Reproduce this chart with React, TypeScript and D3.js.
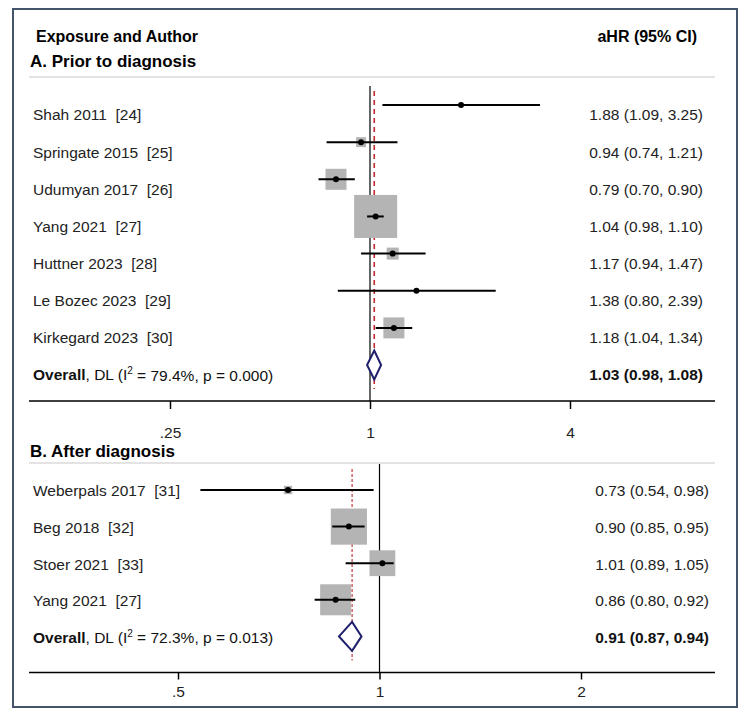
import { useEffect, useRef } from 'react';
import * as d3 from 'd3';

// Panel A: prior to diagnosis
const studiesA = [
  'Shah 2011  [24]',
  'Springate 2015  [25]',
  'Udumyan 2017  [26]',
  'Yang 2021  [27]',
  'Huttner 2023  [28]',
  'Le Bozec 2023  [29]',
  'Kirkegard 2023  [30]',
];
const hrA = [1.88, 0.94, 0.79, 1.04, 1.17, 1.38, 1.18];
const lowA = [1.09, 0.74, 0.7, 0.98, 0.94, 0.8, 1.04];
const highA = [3.25, 1.21, 0.9, 1.1, 1.47, 2.39, 1.34];
const weightA = [0.3, 3.3, 14.7, 61.6, 4.8, 0.5, 14.7];
const overallA = [1.03, 0.98, 1.08];
const statsA = ['79.4', '0.000'];
const ticksA = [0.25, 1, 4];
const tickLabelsA = ['.25', '1', '4'];

// Panel B: after diagnosis
const studiesB = ['Weberpals 2017  [31]', 'Beg 2018  [32]', 'Stoer 2021  [33]', 'Yang 2021  [27]'];
const hrB = [0.73, 0.9, 1.01, 0.86];
const lowB = [0.54, 0.85, 0.89, 0.8];
const highB = [0.98, 0.95, 1.05, 0.92];
const weightB = [2.3, 43.5, 22.2, 32.0];
const overallB = [0.91, 0.87, 0.94];
const statsB = ['72.3', '0.013'];
const ticksB = [0.5, 1, 2];
const tickLabelsB = ['.5', '1', '2'];

const FONT = '"Liberation Sans", Arial, sans-serif';
const fmt = (v: number) => v.toFixed(2);

interface PanelOpts {
  title: string;
  titleY: number;
  sepY: number;
  refTop: number;
  axisY: number;
  rowTop: number;
  rowStep: number;
  textDy: number;
  estRight: number;
  domain: [number, number];
  range: [number, number];
  ticks: number[];
  tickLabels: string[];
  tickSize: number;
  tickPad: number;
  dash: string;
  dashWidth: number;
  studies: string[];
  hr: number[];
  low: number[];
  high: number[];
  weight: number[];
  overall: number[];
  stats: string[];
}

export default function App() {
  const svgRef = useRef<SVGSVGElement>(null);

  useEffect(() => {
    if (!svgRef.current) return;
    const svg = d3.select(svgRef.current);
    svg.selectAll('*').remove();

    svg.append('rect')
      .attr('x', 13).attr('y', 9).attr('width', 724).attr('height', 698)
      .attr('fill', '#fff').attr('stroke', '#44546a').attr('stroke-width', 2);

    svg.append('text')
      .attr('x', 36).attr('y', 42)
      .attr('font-size', 16).attr('font-weight', 'bold')
      .text('Exposure and Author');
    svg.append('text')
      .attr('x', 697).attr('y', 42).attr('text-anchor', 'end')
      .attr('font-size', 16).attr('font-weight', 'bold')
      .text('aHR (95% CI)');

    const boxSize = d3.scaleSqrt().domain([0, 100]).range([0, 54.8]);

    function drawPanel(o: PanelOpts) {
      const g = svg.append('g');
      const x = d3.scaleLog().base(2).domain(o.domain).range(o.range);
      const n = o.studies.length;
      const y = d3.scaleLinear().domain([0, n]).range([o.rowTop, o.rowTop + n * o.rowStep]);

      g.append('text')
        .attr('x', 30).attr('y', o.titleY)
        .attr('font-size', 17).attr('font-weight', 'bold')
        .text(o.title);

      g.append('line')
        .attr('x1', 29).attr('x2', 715).attr('y1', o.sepY).attr('y2', o.sepY)
        .attr('stroke', '#c8c8c8').attr('stroke-width', 1.2);

      // null line
      g.append('line')
        .attr('x1', x(1)).attr('x2', x(1)).attr('y1', o.refTop).attr('y2', o.axisY)
        .attr('stroke', '#000').attr('stroke-width', 1.2);

      // overall line
      g.append('line')
        .attr('x1', x(o.overall[0])).attr('x2', x(o.overall[0]))
        .attr('y1', o.refTop + 5).attr('y2', y(n) + 24)
        .attr('stroke', '#c0282d').attr('stroke-width', o.dashWidth)
        .attr('stroke-dasharray', o.dash);

      const idx = d3.range(n);

      g.selectAll('.box').data(idx).join('rect')
        .attr('x', i => x(o.hr[i]) - boxSize(o.weight[i]) / 2)
        .attr('y', i => y(i) - boxSize(o.weight[i]) / 2)
        .attr('width', i => boxSize(o.weight[i]))
        .attr('height', i => boxSize(o.weight[i]))
        .attr('fill', '#b4b4b4');

      g.selectAll('.ci').data(idx).join('line')
        .attr('x1', i => x(o.low[i])).attr('x2', i => x(o.high[i]))
        .attr('y1', i => y(i)).attr('y2', i => y(i))
        .attr('stroke', '#000').attr('stroke-width', 2);

      g.selectAll('.pt').data(idx).join('circle')
        .attr('cx', i => x(o.hr[i])).attr('cy', i => y(i)).attr('r', 3)
        .attr('fill', '#000');

      g.selectAll('.lbl').data(idx).join('text')
        .attr('x', 33).attr('y', i => y(i) + o.textDy).attr('dy', '0.35em')
        .attr('font-size', 15.5).attr('fill', '#222')
        .style('white-space', 'pre')
        .text(i => o.studies[i]);

      g.selectAll('.est').data(idx).join('text')
        .attr('x', o.estRight).attr('y', i => y(i) + o.textDy).attr('dy', '0.35em')
        .attr('text-anchor', 'end')
        .attr('font-size', 15.5).attr('fill', '#222')
        .text(i => `${fmt(o.hr[i])} (${fmt(o.low[i])}, ${fmt(o.high[i])})`);

      // overall diamond
      const yo = y(n);
      const [est, lo, hi] = o.overall;
      g.append('path')
        .attr('d', `M${x(lo)},${yo} L${x(est)},${yo - 14.5} L${x(hi)},${yo} L${x(est)},${yo + 14.5} Z`)
        .attr('fill', '#fff').attr('stroke', '#1f1f6b').attr('stroke-width', 2);

      const ot = g.append('text')
        .attr('x', 33).attr('y', yo + o.textDy).attr('dy', '0.35em')
        .attr('font-size', 15.5).attr('fill', '#111');
      ot.append('tspan').attr('font-weight', 'bold').text('Overall');
      ot.append('tspan').text(', DL (I');
      ot.append('tspan').attr('font-size', 10).attr('dy', '-0.6em').text('2');
      ot.append('tspan').attr('dy', '0.4em').text(` = ${o.stats[0]}%, p = ${o.stats[1]})`);

      g.append('text')
        .attr('x', o.estRight).attr('y', yo + o.textDy).attr('dy', '0.35em')
        .attr('text-anchor', 'end')
        .attr('font-size', 15.5).attr('font-weight', 'bold').attr('fill', '#111')
        .text(`${fmt(est)} (${fmt(lo)}, ${fmt(hi)})`);

      // axis
      g.append('line')
        .attr('x1', 29).attr('x2', 715).attr('y1', o.axisY).attr('y2', o.axisY)
        .attr('stroke', '#000').attr('stroke-width', 1.5);
      const axis = g.append('g').attr('transform', `translate(0,${o.axisY})`);
      axis.call(
        d3.axisBottom(x)
          .tickValues(o.ticks)
          .tickSize(o.tickSize)
          .tickPadding(o.tickPad)
          .tickFormat((d, i) => o.tickLabels[i])
      );
      axis.select('.domain').remove();
      axis.selectAll('line').attr('stroke', '#000').attr('stroke-width', 1.5);
      axis.selectAll('text')
        .attr('font-size', 15.5).attr('font-family', FONT).attr('fill', '#222');
    }

    drawPanel({
      title: 'A. Prior to diagnosis',
      titleY: 67,
      sepY: 77,
      refTop: 86,
      axisY: 401,
      rowTop: 105,
      rowStep: 37.15,
      textDy: 10,
      estRight: 703,
      domain: [0.25, 4],
      range: [170, 570],
      ticks: ticksA,
      tickLabels: tickLabelsA,
      tickSize: 8,
      tickPad: 18,
      dash: '5,4',
      dashWidth: 1.6,
      studies: studiesA,
      hr: hrA,
      low: lowA,
      high: highA,
      weight: weightA,
      overall: overallA,
      stats: statsA,
    });

    drawPanel({
      title: 'B. After diagnosis',
      titleY: 457,
      sepY: 463,
      refTop: 464,
      axisY: 672.5,
      rowTop: 490,
      rowStep: 36.6,
      textDy: 1,
      estRight: 709,
      domain: [0.5, 2],
      range: [178, 581],
      ticks: ticksB,
      tickLabels: tickLabelsB,
      tickSize: 7,
      tickPad: 6,
      dash: '3,2',
      dashWidth: 1.1,
      studies: studiesB,
      hr: hrB,
      low: lowB,
      high: highB,
      weight: weightB,
      overall: overallB,
      stats: statsB,
    });
  }, []);

  return (
    <svg
      ref={svgRef}
      width={750}
      height={718}
      style={{ position: 'absolute', left: 0, top: 0, fontFamily: FONT, background: '#fff' }}
    />
  );
}
